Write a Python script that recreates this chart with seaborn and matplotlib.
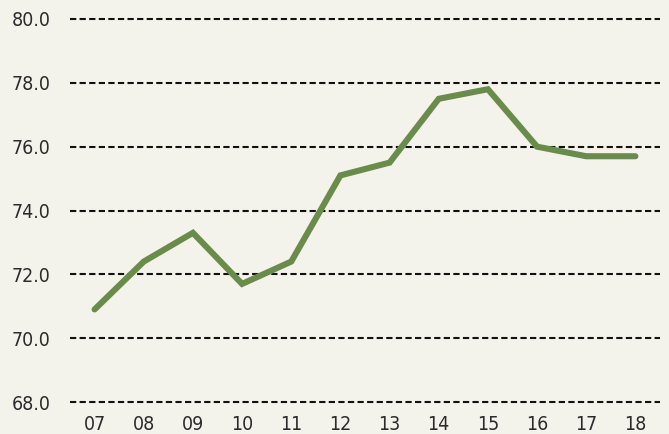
import matplotlib
matplotlib.use("Agg")
import matplotlib.pyplot as plt
import seaborn as sns
import pandas as pd

years = ["07", "08", "09", "10", "11", "12", "13", "14", "15", "16", "17", "18"]
values = [70.9, 72.4, 73.3, 71.7, 72.4, 75.1, 75.5, 77.5, 77.8, 76.0, 75.7, 75.7]
y_ticks = [68.0, 70.0, 72.0, 74.0, 76.0, 78.0, 80.0]

bg = "#f4f3eb"
sns.set_theme(style="white")
plt.rcParams["font.family"] = ["DejaVu Sans"]
plt.rcParams["font.stretch"] = "condensed"

df = pd.DataFrame({"pos": range(len(years)), "value": values})

fig = plt.figure(figsize=(6.69, 4.34), dpi=100, facecolor=bg)
ax = fig.add_axes([70 / 669, 1 - 402 / 434, 590 / 669, 383 / 434])
ax.set_facecolor(bg)

for t in y_ticks:
    ax.axhline(t, color="#111111", lw=1.5, ls=(0, (3.0, 1.6)), zorder=1, clip_on=False)

sns.lineplot(data=df, x="pos", y="value", ax=ax, color="#6a8c4a", lw=4.4,
             solid_capstyle="round", solid_joinstyle="miter", zorder=3)

ax.set_xlim(-0.5, 11.5)
ax.set_ylim(68, 80)
ax.set_xticks(range(len(years)))
ax.set_xticklabels(years)
ax.set_yticks(y_ticks)
ax.set_yticklabels([f"{t:.1f}" for t in y_ticks])
ax.tick_params(axis="both", length=0, labelsize=14, labelcolor="#2b2b2b")
for lab in ax.get_xticklabels() + ax.get_yticklabels():
    lab.set_fontstretch("condensed")
ax.tick_params(axis="y", pad=14)
ax.tick_params(axis="x", pad=9)
ax.set_xlabel("")
ax.set_ylabel("")
for s in ax.spines.values():
    s.set_visible(False)

fig.savefig("out.png", dpi=100, facecolor=bg)
